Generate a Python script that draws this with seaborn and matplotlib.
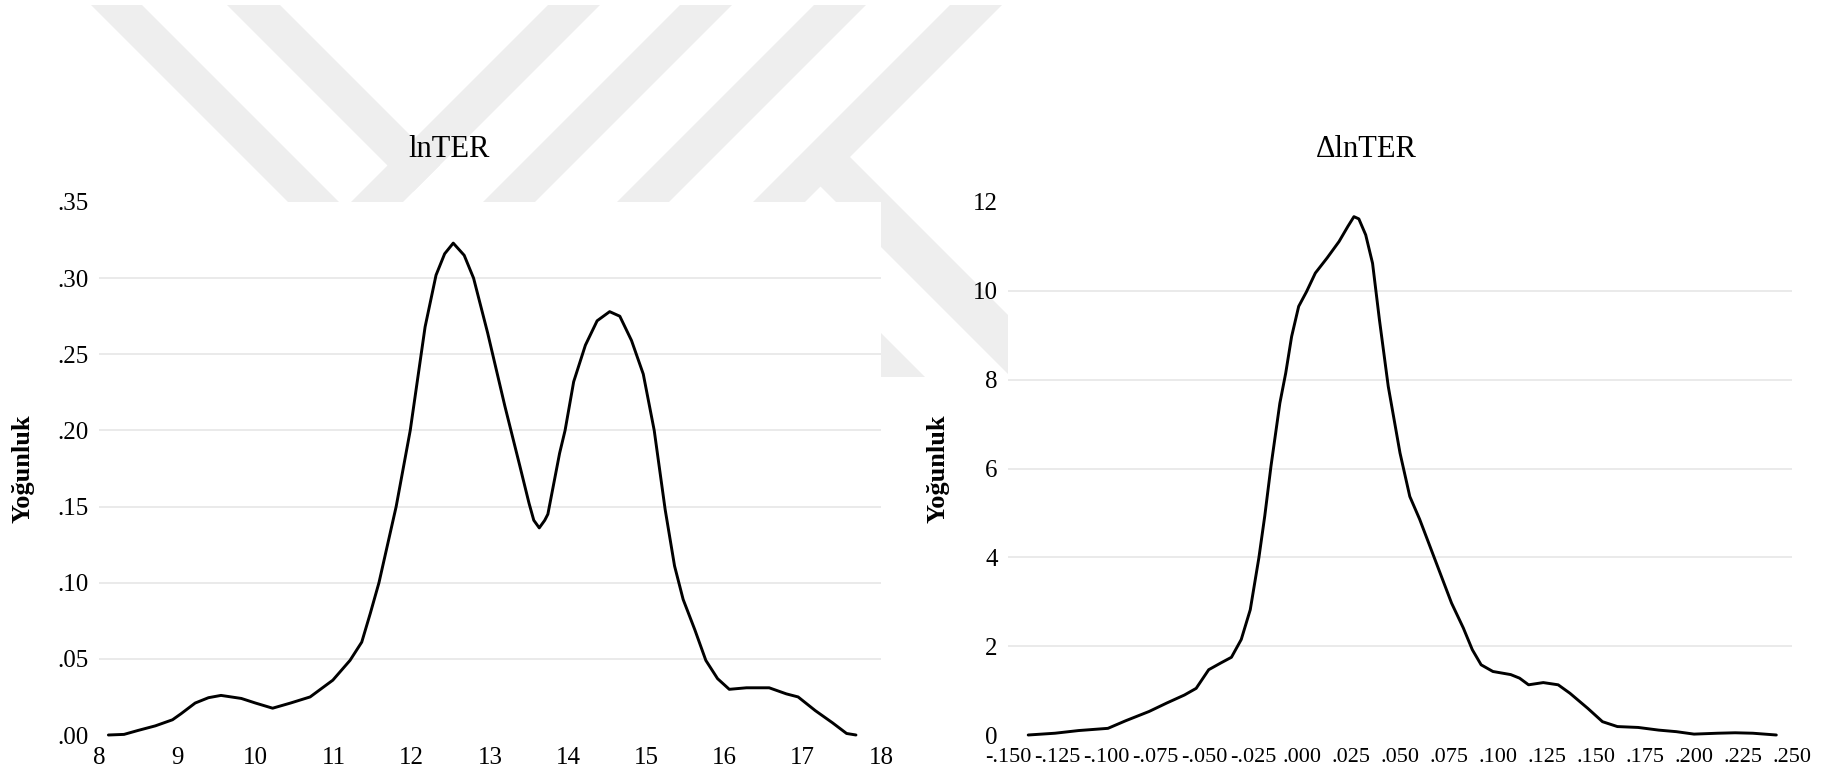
import matplotlib
matplotlib.use("Agg")
import matplotlib.pyplot as plt
import matplotlib.patches as patches
import seaborn as sns

# kernel density of lnTER
lnter_x = [8.12, 8.32, 8.50, 8.72, 8.94, 9.05, 9.23, 9.40, 9.56, 9.82, 10.00,
           10.22, 10.45, 10.70, 10.99, 11.21, 11.36, 11.47, 11.58, 11.80, 11.98,
           12.17, 12.31, 12.42, 12.53, 12.67, 12.79, 12.97, 13.19, 13.38, 13.50,
           13.56, 13.63, 13.70, 13.74, 13.89, 13.96, 14.07, 14.22, 14.37, 14.53,
           14.66, 14.81, 14.96, 15.10, 15.24, 15.36, 15.47, 15.62, 15.76, 15.91,
           16.06, 16.28, 16.57, 16.79, 16.94, 17.16, 17.38, 17.56, 17.68]
lnter_y = [0.000, 0.0004, 0.003, 0.006, 0.010, 0.014, 0.021, 0.0245, 0.026, 0.024, 0.021,
           0.0176, 0.021, 0.025, 0.036, 0.049, 0.061, 0.080, 0.100, 0.150, 0.200,
           0.268, 0.302, 0.316, 0.323, 0.315, 0.300, 0.264, 0.216, 0.177, 0.152,
           0.141, 0.136, 0.141, 0.145, 0.185, 0.200, 0.232, 0.256, 0.272, 0.278,
           0.275, 0.259, 0.237, 0.200, 0.148, 0.111, 0.089, 0.069, 0.049, 0.037,
           0.030, 0.031, 0.031, 0.027, 0.025, 0.016, 0.008, 0.001, 0.000]

# kernel density of ΔlnTER
dlnter_x = [-0.1397, -0.126, -0.114, -0.099, -0.090, -0.078, -0.069, -0.060, -0.054,
            -0.0476, -0.0415, -0.036, -0.031, -0.0264, -0.022, -0.019, -0.0158, -0.0113,
            -0.0083, -0.0053, -0.0017, 0.0023, 0.0068, 0.0128, 0.0189, 0.0234, 0.0265,
            0.0290, 0.0325, 0.0360, 0.0395, 0.0440, 0.0500, 0.0550, 0.0600, 0.0675,
            0.0763, 0.0823, 0.0869, 0.0914, 0.0974, 0.1065, 0.111, 0.1156, 0.1231,
            0.1307, 0.1367, 0.1458, 0.1533, 0.1609, 0.1715, 0.182, 0.191, 0.200,
            0.212, 0.221, 0.230, 0.242]
dlnter_y = [0.00, 0.04, 0.10, 0.15, 0.32, 0.53, 0.72, 0.90, 1.05,
            1.47, 1.62, 1.75, 2.15, 2.82, 3.99, 4.93, 6.06, 7.47,
            8.15, 8.97, 9.65, 9.98, 10.40, 10.74, 11.11, 11.45, 11.67,
            11.62, 11.26, 10.62, 9.35, 7.85, 6.35, 5.37, 4.86, 3.99,
            2.97, 2.41, 1.92, 1.58, 1.43, 1.36, 1.28, 1.13, 1.18,
            1.13, 0.94, 0.60, 0.30, 0.19, 0.17, 0.11, 0.075, 0.02,
            0.04, 0.05, 0.04, 0.00]

left_xticks = [8, 9, 10, 11, 12, 13, 14, 15, 16, 17, 18]
left_yticks = [0.00, 0.05, 0.10, 0.15, 0.20, 0.25, 0.30, 0.35]
left_yticklabels = ['.00', '.05', '.10', '.15', '.20', '.25', '.30', '.35']
right_yticks = [0, 2, 4, 6, 8, 10, 12]
right_xticks = [-0.150, -0.125, -0.100, -0.075, -0.050, -0.025, 0.000, 0.025, 0.050,
                0.075, 0.100, 0.125, 0.150, 0.175, 0.200, 0.225, 0.250]
right_xticklabels = ['-.150', '-.125', '-.100', '-.075', '-.050', '-.025', '.000', '.025',
                     '.050', '.075', '.100', '.125', '.150', '.175', '.200', '.225', '.250']

sns.set_theme(style='white')
plt.rcParams['font.family'] = ['Liberation Serif', 'DejaVu Serif']

W, H = 1827, 784
fig = plt.figure(figsize=(W / 100, H / 100), dpi=100)
fig.patch.set_facecolor('white')


def px(x, y):
    return (x / W, 1 - y / H)


# faint background watermark (image pixel coords)
watermark = [
    [(91, 5), (142, 5), (347, 210), (296, 210)],
    [(227, 5), (280, 5), (440, 165), (413.5, 191.5)],
    [(548, 5), (600, 5), (395, 210), (343, 210)],
    [(680, 5), (732, 5), (527, 210), (475, 210)],
    [(814, 5), (866, 5), (661, 210), (609, 210)],
    [(950, 5), (1002, 5), (797, 210), (745, 210)],
    [(830, 137), (1010, 317), (1010, 376), (794.5, 160.5)],
    [(870, 322), (925, 377), (870, 377)],
]
for pts in watermark:
    poly = patches.Polygon([px(*p) for p in pts], closed=True, transform=fig.transFigure,
                           facecolor='#eeeeee', edgecolor='none', zorder=-1)
    fig.add_artist(poly)

ax1 = fig.add_axes([99 / W, 1 - 735 / H, 782 / W, 533 / H])
ax2 = fig.add_axes([1008 / W, 1 - 735 / H, 784 / W, 533 / H])

panels = [
    (ax1, lnter_x, lnter_y, (8, 18), (0, 0.35), left_xticks, None,
     left_yticks, left_yticklabels, 18, -0.083),
    (ax2, dlnter_x, dlnter_y, (-0.150, 0.250), (0, 12), right_xticks, right_xticklabels,
     right_yticks, None, 16, -0.074),
]

for ax, xs, ys, xl, yl, xt, xtl, yt, ytl, xfs, lab_x in panels:
    ax.set_facecolor('white')
    for t in yt[1:-1]:
        ax.axhline(t, color='#e8e8e8', linewidth=1.3, zorder=0)
    sns.lineplot(x=xs, y=ys, ax=ax, color='black', linewidth=2.1)
    for ln in ax.lines[-1:]:
        ln.set_clip_on(False)
    ax.set_xlim(*xl)
    ax.set_ylim(*yl)
    ax.set_xticks(xt)
    if xtl is not None:
        ax.set_xticklabels(xtl)
    ax.set_yticks(yt)
    if ytl is not None:
        ax.set_yticklabels(ytl)
    ax.tick_params(axis='y', length=0, pad=7.5, labelsize=18, labelcolor='black')
    ax.tick_params(axis='x', length=0, pad=9, labelsize=xfs, labelcolor='black')
    for s in ax.spines.values():
        s.set_visible(False)
    ax.set_ylabel('Yoğunluk', fontsize=19, fontweight='bold', color='black')
    ax.yaxis.set_label_coords(lab_x, 0.5)
    ax.set_xlabel('')

fig.text(449.5 / W, 1 - 157 / H, 'lnTER', ha='center', va='baseline', fontsize=22, color='black')
fig.text(1366 / W, 1 - 157 / H, 'ΔlnTER', ha='center', va='baseline', fontsize=22, color='black')

fig.savefig('out.png', dpi=100, facecolor='white')
